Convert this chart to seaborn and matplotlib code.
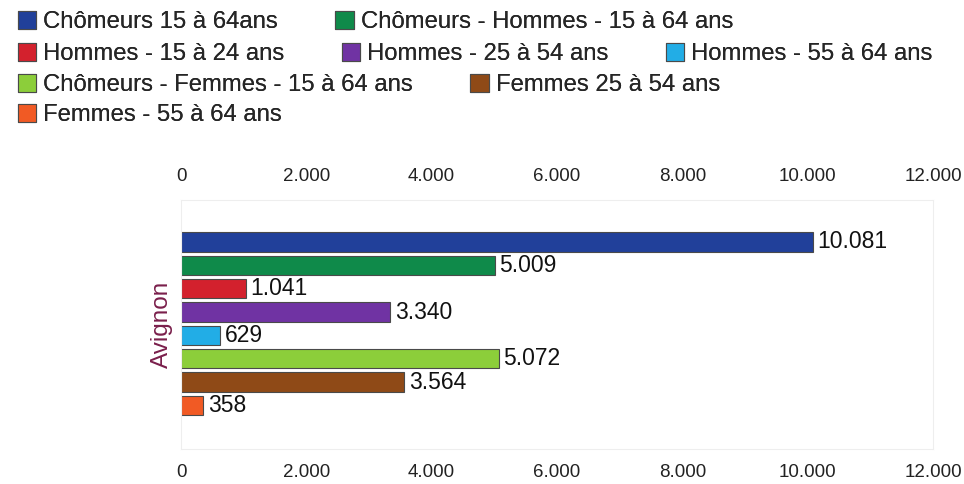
import matplotlib
matplotlib.use("Agg")
import matplotlib.pyplot as plt
import matplotlib.patches as mpatches
import seaborn as sns
import pandas as pd

# données : chômeurs à Avignon
series = [
    "Chômeurs 15 à 64ans",
    "Chômeurs - Hommes - 15 à 64 ans",
    "Hommes - 15 à 24 ans",
    "Hommes - 25 à 54 ans",
    "Hommes - 55 à 64 ans",
    "Chômeurs - Femmes - 15 à 64 ans",
    "Femmes 25 à 54 ans",
    "Femmes - 55 à 64 ans",
]
values = [10081, 5009, 1041, 3340, 629, 5072, 3564, 358]
colors = ["#21409a", "#0f8a4a", "#d3212d", "#7033a3", "#22ade6",
          "#8cce3a", "#8f4a17", "#f15a24"]
xticks = [0, 2000, 4000, 6000, 8000, 10000, 12000]
legend_rows = [[0, 1], [2, 3, 4], [5, 6], [7]]

def fmt(v):
    return f"{v:,}".replace(",", ".")

sns.set_style("white")
plt.rcParams["font.family"] = ["Liberation Sans", "DejaVu Sans"]

df = pd.DataFrame({"serie": series, "valeur": values})

fig = plt.figure(figsize=(9.64, 4.84), dpi=100)
ax = fig.add_axes([0.1878, 0.0723, 0.78, 0.5145])

sns.barplot(data=df, x="valeur", y="serie", hue="serie", palette=colors,
            saturation=1, orient="h", width=0.82, edgecolor="#4a4a4a",
            linewidth=0.8, legend=False, ax=ax)

for i, v in enumerate(values):
    ax.text(v + 70, i, fmt(v), va="center", ha="left", fontsize=16.5, color="#111111")

ax.set_xlim(0, 12000)
ax.set_ylim(8.87, -1.8)
ax.set_xticks(xticks)
ax.set_xticklabels([fmt(t) for t in xticks])
ax.tick_params(axis="x", length=0, labelsize=13.5, labelcolor="#222222",
               top=True, labeltop=True, bottom=True, labelbottom=True, pad=11)
ax.set_yticks([])
ax.set_xlabel("")
ax.set_ylabel("Avignon", fontsize=17.5, color="#7a1f4b", labelpad=6)
for s in ax.spines.values():
    s.set_color("#eeeeee")
    s.set_linewidth(0.8)

# légende en lignes, comme dans l'original
row_y = [0.954, 0.888, 0.824, 0.762]
for r, idx in enumerate(legend_rows):
    handles = [mpatches.Patch(facecolor=colors[i], edgecolor="#4a4a4a",
                              linewidth=0.8, label=series[i]) for i in idx]
    leg = fig.legend(handles=handles, loc="center left",
                     bbox_to_anchor=(0.0187, row_y[r]), ncol=len(idx),
                     frameon=False, fontsize=17.2, handlelength=0.76,
                     handleheight=0.76, handletextpad=0.3, columnspacing=2.4,
                     borderaxespad=0, borderpad=0)
    fig.add_artist(leg)

fig.savefig("out.png", dpi=100)
